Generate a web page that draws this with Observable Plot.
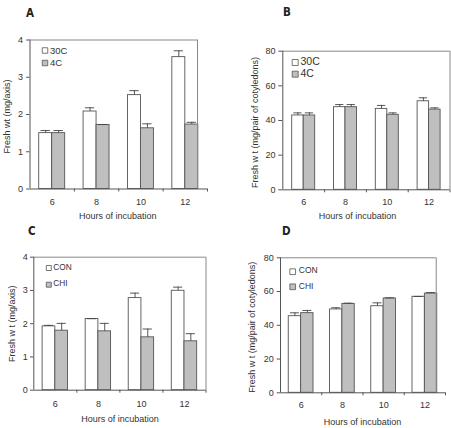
<!DOCTYPE html>
<html><head><meta charset="utf-8">
<script src="https://cdn.jsdelivr.net/npm/d3@7"></script>
<script src="https://cdn.jsdelivr.net/npm/@observablehq/plot@0.6"></script>
<style>
body{margin:0;background:#fff;}
#wrap{position:relative;width:451px;height:428px;overflow:hidden;background:#fff;font-family:"Liberation Sans",Arial,sans-serif;}
.panel{position:absolute;}
.letter{position:absolute;font-family:"Liberation Sans Narrow","DejaVu Sans Condensed",sans-serif;font-weight:bold;font-size:11.5px;color:#222;line-height:1;}
</style></head><body><div id="wrap"></div>
<script>
// ---------- data ----------
const hours = [6, 8, 10, 12];
const xTitle = "Hours of incubation";
const panelLetters = ["A", "B", "C", "D"];
const yTitles = ["Fresh wt (mg/axis)", "Fresh w t (mg/pair of cotyledons)", "Fresh w t (mg/axis)", "Fresh w t (mg/pair of cotyledons)"];
const yTicksAxis = [0, 1, 2, 3, 4];
const yTicksCot = [0, 20, 40, 60, 80];

// Panel A: axis, temperature
const seriesAB = ["30C", "4C"];
const a30 = [1.50, 2.08, 2.52, 3.54];
const a30Err = [0.07, 0.10, 0.12, 0.17];
const a4 = [1.50, 1.72, 1.63, 1.73];
const a4Err = [0.07, 0.01, 0.12, 0.06];

// Panel B: cotyledons, temperature
const b30 = [42.9, 47.7, 46.7, 51.1];
const b30Err = [1.5, 1.5, 2.0, 2.0];
const b4 = [42.9, 47.7, 43.3, 46.3];
const b4Err = [1.5, 1.5, 1.1, 1.0];

// Panel C: axis, CHI
const seriesCD = ["CON", "CHI"];
const cCon = [1.92, 2.14, 2.77, 2.99];
const cConErr = [0.03, 0.01, 0.15, 0.11];
const cChi = [1.79, 1.77, 1.59, 1.47];
const cChiErr = [0.22, 0.24, 0.25, 0.23];

// Panel D: cotyledons, CHI
const dCon = [45.4, 49.4, 51.3, 56.9];
const dConErr = [2.0, 1.0, 2.0, 0.2];
const dChi = [47.2, 52.7, 55.9, 58.8];
const dChiErr = [1.6, 0.4, 0.4, 0.6];

// ---------- drawing ----------
const wrap = document.getElementById("wrap");
const FONT = "'Liberation Sans', Arial, sans-serif";
const fills = ["#ffffff", "#bfbfbf"];

function panel(cfg) {
  const rows = hours.flatMap((h, i) => [
    {h, s: 0, v: cfg.v1[i], e: cfg.e1[i]},
    {h, s: 1, v: cfg.v2[i], e: cfg.e2[i]}
  ]);
  const w = cfg.bw;
  const xc = d => d.s === 0 ? d.h - w / 2 : d.h + w / 2;
  const cap = w * 0.36;
  const ymax = cfg.ticks[cfg.ticks.length - 1];
  const lg = cfg.legend;
  const r = lg.side / Math.sqrt(Math.PI);
  const plot = Plot.plot({
    width: cfg.W, height: cfg.H,
    marginLeft: cfg.mL, marginRight: cfg.mR, marginTop: cfg.mT, marginBottom: cfg.mB,
    x: {type: "linear", domain: [5, 13]},
    y: {domain: [0, ymax]},
    style: {background: "transparent", overflow: "visible", fontFamily: FONT, fontSize: "9px", color: "#333"},
    marks: [
      Plot.rectY(rows.filter(d => d.s === 0), {x1: d => d.h - w, x2: d => d.h, y1: 0, y2: "v", fill: fills[0], stroke: "#555", strokeWidth: 0.9}),
      Plot.rectY(rows.filter(d => d.s === 1), {x1: d => d.h, x2: d => d.h + w, y1: 0, y2: "v", fill: fills[1], stroke: "#555", strokeWidth: 0.9}),
      Plot.ruleX(rows, {x: xc, y1: "v", y2: d => d.v + d.e, stroke: "#444", strokeWidth: 0.9}),
      Plot.ruleY(rows, {y: d => d.v + d.e, x1: d => xc(d) - cap, x2: d => xc(d) + cap, stroke: "#444", strokeWidth: 0.9}),
      // frame
      Plot.ruleY([ymax], {x1: 5, x2: cfg.frameRight, stroke: "#888"}),
      Plot.ruleX([cfg.frameRight], {y1: 0, y2: ymax, stroke: "#888"}),
      Plot.ruleX([5], {y1: 0, y2: ymax, stroke: "#555"}),
      Plot.ruleY([0], {x1: 5, x2: 13, stroke: "#555"}),
      // axes
      Plot.axisY({ticks: cfg.ticks, tickFormat: d => String(d), tickSize: cfg.yTickSize, tickPadding: cfg.yTickPad, label: null, stroke: "#555", fill: "#333", fontSize: 9}),
      Plot.axisX({ticks: hours, tickFormat: d => String(d), tickSize: 0, tickPadding: cfg.xPad, label: null, fill: "#333", fontSize: 9}),
      Plot.axisX({ticks: [7, 9, 11, 13], tickSize: 3, tickFormat: () => "", label: null, stroke: "#555"}),
      // titles
      Plot.text([cfg.yTitle], {frameAnchor: "left", textAnchor: "middle", lineAnchor: "middle", rotate: -90, dx: cfg.yTitleDx, dy: cfg.yTitleDy, fontSize: 9, fill: "#333", letterSpacing: "0.2px"}),
      Plot.text([xTitle], {frameAnchor: "bottom", textAnchor: "middle", lineAnchor: "middle", dx: cfg.xTitleDx, dy: cfg.xTitleDy, fontSize: 9, fill: "#333", letterSpacing: "0.3px"}),
      // legend
      Plot.dot([0], {frameAnchor: "top-left", dx: lg.bx, dy: lg.by[0], symbol: "square", r, fill: fills[0], stroke: "#555", strokeWidth: 0.8}),
      Plot.dot([1], {frameAnchor: "top-left", dx: lg.bx, dy: lg.by[1], symbol: "square", r, fill: fills[1], stroke: "#555", strokeWidth: 0.8}),
      Plot.text([cfg.series[0]], {frameAnchor: "top-left", textAnchor: "start", lineAnchor: "middle", dx: lg.tx, dy: lg.ty[0], fontSize: lg.fs, fill: "#333"}),
      Plot.text([cfg.series[1]], {frameAnchor: "top-left", textAnchor: "start", lineAnchor: "middle", dx: lg.tx, dy: lg.ty[1], fontSize: lg.fs, fill: "#333"})
    ]
  });
  const div = document.createElement("div");
  div.className = "panel";
  div.style.left = cfg.ox + "px";
  div.style.top = cfg.oy + "px";
  div.appendChild(plot);
  wrap.appendChild(div);

  const L = document.createElement("div");
  L.className = "letter";
  L.textContent = cfg.letter;
  L.style.left = cfg.letterPos[0] + "px";
  L.style.top = cfg.letterPos[1] + "px";
  wrap.appendChild(L);
}

panel({ox: 0, oy: 0, W: 225, H: 228, mL: 29.5, mR: 18, mT: 39.5, mB: 39.5,
  ticks: yTicksAxis, v1: a30, e1: a30Err, v2: a4, e2: a4Err, bw: 0.585, frameRight: 12.55,
  series: seriesAB, yTickSize: 3.4, yTickPad: 3.5, xPad: 10,
  yTitle: yTitles[0], yTitleDx: -22.5, yTitleDy: 2, xTitleDx: -1, xTitleDy: 27.5,
  legend: {bx: 15, by: [10.5, 23], side: 5.5, tx: 20, ty: [10.5, 23], fs: 9.5},
  letter: panelLetters[0], letterPos: [26, 7.5]});

panel({ox: 225, oy: 0, W: 226, H: 228, mL: 57.3, mR: 1.5, mT: 50.7, mB: 38.7,
  ticks: yTicksCot, v1: b30, e1: b30Err, v2: b4, e2: b4Err, bw: 0.55, frameRight: 13,
  series: seriesAB, yTickSize: 4, yTickPad: 3.3, xPad: 9.2,
  yTitle: yTitles[1], yTitleDx: -27.3, yTitleDy: 2, xTitleDx: -9, xTitleDy: 26.7,
  legend: {bx: 12.4, by: [11.3, 23], side: 6, tx: 17.7, ty: [10.5, 22.8], fs: 10.5},
  letter: panelLetters[1], letterPos: [283, 7]});

panel({ox: 0, oy: 214, W: 225, H: 214, mL: 33.3, mR: 19.5, mT: 42.7, mB: 38.3,
  ticks: yTicksAxis, v1: cCon, e1: cConErr, v2: cChi, e2: cChiErr, bw: 0.59, frameRight: 13,
  series: seriesCD, yTickSize: 3.3, yTickPad: 2.7, xPad: 10.1,
  yTitle: yTitles[2], yTitleDx: -21.6, yTitleDy: 0, xTitleDx: 0, xTitleDy: 29,
  legend: {bx: 15, by: [10.8, 27.5], side: 5, tx: 19.4, ty: [10.3, 26.2], fs: 8.3},
  letter: panelLetters[2], letterPos: [28, 226]});

panel({ox: 225, oy: 214, W: 226, H: 214, mL: 55, mR: 6, mT: 43.3, mB: 35.7,
  ticks: yTicksCot, v1: dCon, e1: dConErr, v2: dChi, e2: dChiErr, bw: 0.6, frameRight: 12.55,
  series: seriesCD, yTickSize: 3.3, yTickPad: 3.4, xPad: 9.2,
  yTitle: yTitles[3], yTitleDx: -28.3, yTitleDy: 2, xTitleDx: -0.5, xTitleDy: 29.5,
  legend: {bx: 12.2, by: [13.9, 29], side: 5.7, tx: 18.3, ty: [12.7, 28.7], fs: 8.5},
  letter: panelLetters[3], letterPos: [282, 226]});
</script></body></html>
